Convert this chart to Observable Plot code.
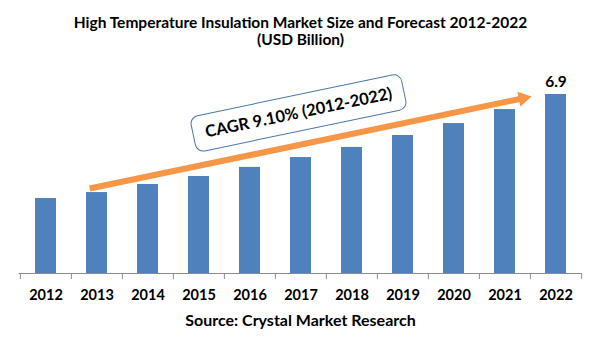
<!DOCTYPE html>
<html><head><meta charset="utf-8">
<script src="https://cdn.jsdelivr.net/npm/d3@7"></script>
<script src="https://cdn.jsdelivr.net/npm/@observablehq/plot@0.6"></script>
<style>
html,body{margin:0;padding:0;background:#fff;}
#chart{width:601px;font-family:Lato,sans-serif;color:#000;}
.title{box-sizing:border-box;height:49px;padding-top:14px;text-align:center;font-weight:700;font-size:15.5px;line-height:17px;}
.caption{margin-top:4px;text-align:center;font-weight:700;font-size:16px;line-height:18px;}
svg{display:block;}
</style></head><body><div id="chart"></div>
<script>
// ---- data ----
const years = ["2012","2013","2014","2015","2016","2017","2018","2019","2020","2021","2022"];
const values = [2.89, 3.12, 3.43, 3.74, 4.09, 4.47, 4.86, 5.32, 5.78, 6.32, 6.9];
const titleLines = ["High Temperature Insulation Market Size and Forecast 2012-2022", "(USD Billion)"];
const sourceText = "Source: Crystal Market Research";
const cagrLabel = "CAGR 9.10% (2012-2022)";
const labelledYear = "2022";
// annotation anchors, in data units (year, USD billion)
const trendFrom = {year: "2013", value: 3.335};
const trendTo = {year: "2022", value: 7.017};
const trendHead = {year: "2022", value: 6.753};
const calloutAt = {year: "2017", value: 6.19};

const data = years.map((year, i) => ({year, value: values[i]}));

const W = 601, H = 258, ML = 18.5, MR = 19, MT = 20, MB = 34;
const step = (W - ML - MR) / years.length;
const blue = "#4F81BD", orange = "#F79646", gray = "#8c8c8c";

const roundedBox = {
  draw(ctx) {
    const w = 107.5, h = 18, r = 8;
    ctx.moveTo(-w + r, -h);
    ctx.lineTo(w - r, -h);
    ctx.arcTo(w, -h, w, -h + r, r);
    ctx.lineTo(w, h - r);
    ctx.arcTo(w, h, w - r, h, r);
    ctx.lineTo(-w + r, h);
    ctx.arcTo(-w, h, -w, h - r, r);
    ctx.lineTo(-w, -h + r);
    ctx.arcTo(-w, -h, -w + r, -h, r);
    ctx.closePath();
  }
};

const chart = Plot.plot({
  width: W, height: H,
  marginLeft: ML, marginRight: MR, marginTop: MT, marginBottom: MB,
  style: {fontFamily: "Lato, sans-serif", color: "#000", background: "#fff"},
  x: {type: "band", domain: years, paddingInner: 0.59, paddingOuter: 0.295, axis: null},
  y: {domain: [0, 7.864], axis: null},
  marks: [
    Plot.barY(data, {x: "year", y: "value", fill: blue}),
    Plot.ruleY([0], {stroke: gray, strokeWidth: 1}),
    Plot.ruleX(years, {x: d => d, y1: 0, y2: 0, insetBottom: -6, dx: -step / 2, stroke: gray}),
    Plot.ruleX([years[years.length - 1]], {x: d => d, y1: 0, y2: 0, insetBottom: -6, dx: step / 2, stroke: gray}),
    Plot.text(years, {x: d => d, text: d => d, frameAnchor: "bottom", lineAnchor: "top", dy: 16, fontSize: 14.5, fontWeight: "bold"}),
    Plot.arrow([0], {x1: () => trendFrom.year, y1: () => trendFrom.value, x2: () => trendTo.year, y2: () => trendTo.value,
      stroke: orange, strokeWidth: 6, headLength: 0, insetStart: -7.5, insetEnd: 36, strokeLinecap: "butt"}),
    Plot.dot([trendHead], {x: "year", y: "value", dx: -32.9, symbol: "triangle", r: 5.6, rotate: 78.3, fill: orange, stroke: null}),
    Plot.dot([calloutAt], {x: "year", y: "value", dx: -2.5, symbol: roundedBox, rotate: -11.8, fill: "#fff", stroke: "#4a76ad", strokeWidth: 1}),
    Plot.text([calloutAt], {x: "year", y: "value", dx: -2.3, text: () => cagrLabel, rotate: -11.8, fontSize: 16.5, fontWeight: "bold"}),
    Plot.text(data.filter(d => d.year === labelledYear), {x: "year", y: "value", text: d => d3.format(".1f")(d.value), lineAnchor: "bottom", dy: -8, fontSize: 15.5, fontWeight: "bold"})
  ]
});

const root = document.getElementById("chart");
const t = document.createElement("div");
t.className = "title";
t.innerHTML = titleLines.join("<br>");
root.appendChild(t);
root.appendChild(chart);
const c = document.createElement("div");
c.className = "caption";
c.textContent = sourceText;
root.appendChild(c);
</script></body></html>
